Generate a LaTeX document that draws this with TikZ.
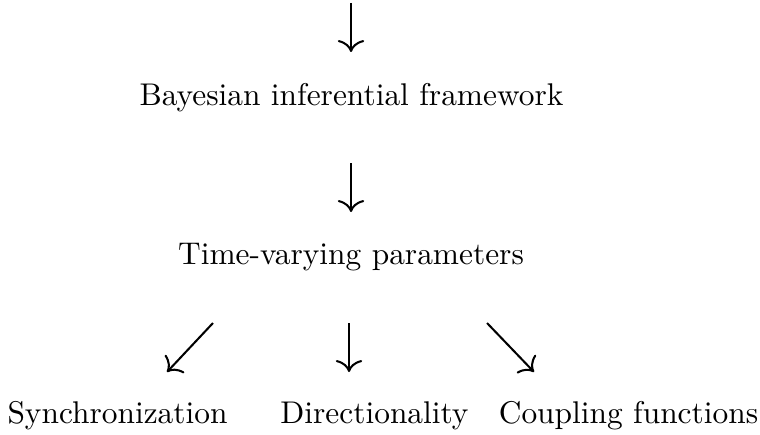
\documentclass[tikz,border=0pt]{standalone}
\usetikzlibrary{arrows.meta}
\begin{document}
\begin{tikzpicture}[x=0.3185pt,y=-0.3185pt,
    lbl/.style={anchor=base,inner sep=0pt,font=\normalsize},
    arr/.style={line width=0.65pt,-{Computer Modern Rightarrow[length=3.8pt,width=8.4pt]}}]
  \useasboundingbox (0,0) rectangle (760,434);
  % labels
  \node[lbl] (bif)  at (351.5,106) {Bayesian inferential framework};
  \node[lbl] (tvp)  at (351,264) {Time-varying parameters};
  \node[lbl] (sync) at (117.5,423) {Synchronization};
  \node[lbl] (dir)  at (374.5,423) {Directionality};
  \node[lbl] (cpl)  at (628.5,423) {Coupling functions};
  % arrow ends
  \coordinate (top) at (351,3);
  \coordinate (topend) at (351,52);
  \coordinate (a2s) at (351,163);
  \coordinate (a2e) at (351,212);
  \coordinate (l3s) at (213,323);
  \coordinate (l3e) at (167,372);
  \coordinate (m3s) at (349,323);
  \coordinate (m3e) at (349,372);
  \coordinate (r3s) at (487,323);
  \coordinate (r3e) at (534,372);
  % connectors
  \draw[arr] (top) -- (topend);
  \draw[arr] (a2s) -- (a2e);
  \draw[arr] (l3s) -- (l3e);
  \draw[arr] (m3s) -- (m3e);
  \draw[arr] (r3s) -- (r3e);
\end{tikzpicture}
\end{document}
